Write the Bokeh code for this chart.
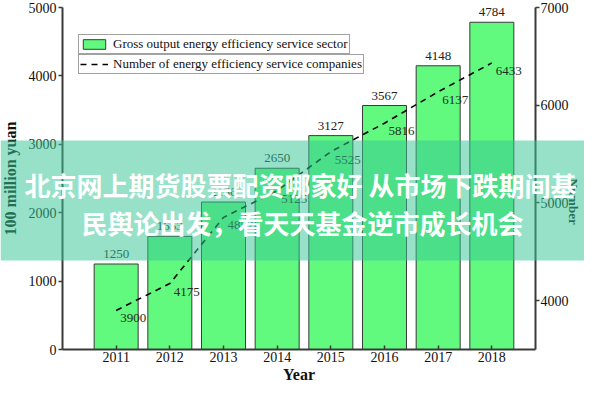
import math
from bokeh.plotting import figure
from bokeh.models import (Range1d, LinearAxis, FixedTicker, Legend, LegendItem,
                          Label, BoxAnnotation, ColumnDataSource)
from bokeh.core.properties import value
from bokeh.embed import file_html
from bokeh.resources import INLINE

years = [2011, 2012, 2013, 2014, 2015, 2016, 2017, 2018]
gross_output = [1250, 1653, 2156, 2650, 3127, 3567, 4148, 4784]
companies = [3900, 4175, 4852, 5125, 5525, 5816, 6137, 6433]
left_ticks = [0, 1000, 2000, 3000, 4000, 5000]
right_ticks = [4000, 5000, 6000, 7000]
banner_line1 = "北京网上期货股票配资哪家好 从市场下跌期间基"
banner_line2 = "民舆论出发，看天天基金逆市成长机会"

SERIF = "Liberation Serif"

# ---- layout (canvas pixels); the frame fills the canvas, axes sit at fixed spots
W, H = 584, 384
PX_2010, PX_2019 = 62, 545       # x pixels of the category-scale ends
R_AXIS_PX = 535                  # x pixel of right value axis
AX_TOP, AX_BOTTOM = 7, 349       # y pixel (from top) of axis tops / x axis
X0, X1 = 2010, 2019
L0, L1 = 0, 5000
R0, R1 = 3500, 7000

def extend(v0, v1, p0, p1, size, flip=False):
    per = (p1 - p0) / (v1 - v0)
    if flip:   # pixel grows downward while value grows upward
        return v0 - (size - p1) / per, v1 + p0 / per
    return v0 - p0 / per, v1 + (size - p1) / per

xs, xe = extend(X0, X1, PX_2010, PX_2019, W)
x_per = (PX_2019 - PX_2010) / (X1 - X0)
x_raxis = xs + R_AXIS_PX / x_per
ls, le = extend(L0, L1, AX_TOP, AX_BOTTOM, H, flip=True)
rs, re_ = extend(R0, R1, AX_TOP, AX_BOTTOM, H, flip=True)

src = ColumnDataSource(dict(
    year=years,
    gross=gross_output,
    gross_txt=[str(v) for v in gross_output],
    comp=companies,
    comp_txt=[str(v) for v in companies],
))

p = figure(width=W, height=H, output_backend="svg", toolbar_location=None,
           x_range=Range1d(xs, xe), y_range=Range1d(ls, le),
           min_border=0, min_border_left=0, min_border_right=0,
           min_border_top=0, min_border_bottom=0)
p.extra_y_ranges = {"right": Range1d(rs, re_)}
p.outline_line_color = None
p.xgrid.grid_line_color = None
p.ygrid.grid_line_color = None
p.background_fill_color = "white"
p.border_fill_color = "white"

bars = p.vbar(x="year", top="gross", width=0.82, source=src,
              fill_color="#62fa7e", line_color="#3a3a3a", line_width=1)
line = p.line(x="year", y="comp", source=src, y_range_name="right",
              line_color="black", line_width=1.6, line_dash="6 5")

p.text(x="year", y="gross", text="gross_txt", source=src,
       text_align="center", text_baseline="bottom", y_offset=-6,
       text_font=value(SERIF), text_font_size="13px", text_color="#222222")
p.text(x="year", y="comp", text="comp_txt", source=src, y_range_name="right",
       text_align="left", text_baseline="top", x_offset=4, y_offset=4,
       text_font=value(SERIF), text_font_size="13px", text_color="#1e2e22")

# axes
xa = p.xaxis[0]
xa.ticker = FixedTicker(ticks=years)
xa.axis_label = "Year"
xa.fixed_location = L0
xa.bounds = (X0, x_raxis)
ya = p.yaxis[0]
ya.ticker = FixedTicker(ticks=left_ticks)
ya.axis_label = "100 million yuan"
ya.fixed_location = X0
ya.bounds = (L0, L1)
ra = LinearAxis(y_range_name="right", ticker=FixedTicker(ticks=right_ticks),
                axis_label="Number", fixed_location=x_raxis, bounds=(R0, R1))
p.add_layout(ra, "right")

for ax in (xa, ya, ra):
    ax.axis_line_color = "#3a3a3a"
    ax.axis_line_width = 2
    ax.major_tick_line_color = "#3a3a3a"
    ax.major_tick_line_width = 1.5
    ax.minor_tick_line_color = None
    ax.major_label_text_font = SERIF
    ax.major_label_text_font_size = "14px"
    ax.major_label_text_color = "#111111"
    ax.axis_label_text_font = SERIF
    ax.axis_label_text_font_style = "bold"
    ax.axis_label_text_font_size = "16px"
    ax.axis_label_text_color = "#111111"
    ax.major_label_standoff = 2
    ax.axis_label_standoff = 2
xa.major_tick_in = 4
xa.major_tick_out = 0
xa.axis_label_standoff = 1
ya.major_tick_in = 0
ya.major_tick_out = 4
ya.axis_label_standoff = 7
ra.major_tick_in = 0
ra.major_tick_out = 4
ra.major_label_standoff = 1
ra.axis_label_standoff = 2
ra.axis_label_text_font_size = "13px"
try:
    ra.axis_label_orientation = -math.pi / 2
except AttributeError:
    pass

# legends (two separate boxes)
def make_legend(item, loc):
    return Legend(items=[item], location=loc, orientation="vertical",
                  label_text_font=SERIF, label_text_font_size="13px",
                  label_text_color="#111111", glyph_width=28, glyph_height=12,
                  label_height=12, label_standoff=5, padding=1, spacing=0,
                  margin=0, border_line_color="#444444", border_line_width=1,
                  background_fill_alpha=1.0)

lg1 = make_legend(LegendItem(label="Gross output energy efficiency service sector",
                             renderers=[bars]), (78, 330))
lg2 = make_legend(LegendItem(label="Number of energy efficiency service companies",
                             renderers=[line]), (78, 310))
p.add_layout(lg1, "center")
p.add_layout(lg2, "center")

# overlay banner: translucent band with two lines of white text
p.add_layout(BoxAnnotation(left=0, right=W, bottom=124, top=244,
                           left_units="screen", right_units="screen",
                           bottom_units="screen", top_units="screen",
                           fill_color="#36c696", fill_alpha=0.52,
                           line_color=None, level="overlay"))
for txt, xx, yy in ((banner_line1, 300, 200), (banner_line2, 302, 162)):
    p.add_layout(Label(x=xx, y=yy, x_units="screen", y_units="screen", text=txt,
                       text_align="center", text_baseline="middle",
                       text_font="Noto Sans CJK SC", text_font_style="bold",
                       text_font_size="26px", text_color="white",
                       level="overlay"))

open("out.html", "w").write(file_html(p, INLINE))
